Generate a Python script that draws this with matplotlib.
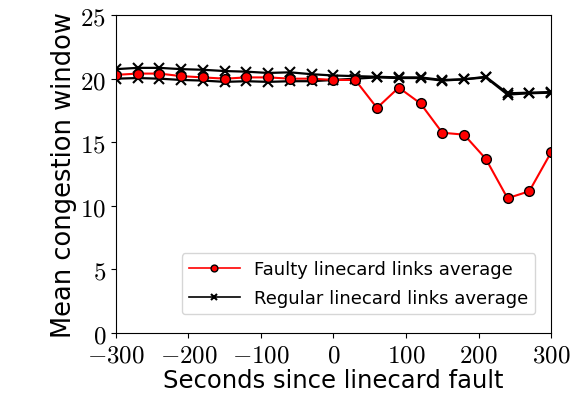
import matplotlib
matplotlib.use('Agg')
import matplotlib.pyplot as plt
from matplotlib.ticker import FuncFormatter

plt.rcParams['mathtext.fontset'] = 'cm'

# seconds since the fault (sampled every 30 s)
seconds = list(range(-300, 301, 30))

# faulty linecard average (red)
faulty_avg = [20.3, 20.4, 20.4, 20.2, 20.1, 20.0, 20.1, 20.1, 20.0, 20.0, 19.9,
              19.9, 17.7, 19.3, 18.05, 15.75, 15.6, 13.7, 10.6, 11.15, 14.2]

# regular linecard averages (black, two groups drawn with the same style)
regular_avg_a = [20.75, 20.85, 20.85, 20.75, 20.7, 20.6, 20.55, 20.45, 20.5, 20.35, 20.25,
                 20.2, 20.15, 20.1, 20.1, 19.9, 19.95, 20.15, 18.85, 18.9, 18.95]
regular_avg_b = [20.0, 20.05, 20.0, 19.9, 19.85, 19.75, 19.8, 19.75, 19.8, 19.8, 19.9,
                 20.0, 20.1, 20.05, 20.05, 19.85, 19.95, 20.1, 18.75, 18.85, 18.9]

fig = plt.figure(figsize=(5.74, 4.02), dpi=100)
ax = fig.add_axes([0.202, 0.169, 0.758, 0.791])

ax.plot(seconds, regular_avg_a, color='black', marker='x', markersize=7,
        markeredgewidth=1.5, linewidth=1.6, label='Regular linecard links average')
ax.plot(seconds, regular_avg_b, color='black', marker='x', markersize=7,
        markeredgewidth=1.5, linewidth=1.6)
ax.plot(seconds, faulty_avg, color='red', marker='o', markersize=7,
        markeredgecolor='black', markeredgewidth=1.0, linewidth=1.5,
        label='Faulty linecard links average')

ax.set_xlim(-300, 300)
ax.set_ylim(0, 25)
ax.set_xticks([-300, -200, -100, 0, 100, 200, 300])
ax.set_yticks([0, 5, 10, 15, 20, 25])
fmt = FuncFormatter(lambda v, pos: '$%d$' % int(v))
ax.xaxis.set_major_formatter(fmt)
ax.yaxis.set_major_formatter(fmt)
ax.tick_params(labelsize=18)

ax.set_xlabel('Seconds since linecard fault', fontsize=17.5, labelpad=1)
ax.set_ylabel('Mean congestion window', fontsize=18.5, labelpad=2)

handles, labels = ax.get_legend_handles_labels()
leg = ax.legend(handles[::-1], labels[::-1], loc='lower right', fontsize=13,
                markerscale=0.7, handlelength=2.8, labelspacing=0.6,
                bbox_to_anchor=(0.985, 0.03))
for line in leg.get_lines():
    line.set_linewidth(1.2)

fig.savefig('out.png', dpi=100)
